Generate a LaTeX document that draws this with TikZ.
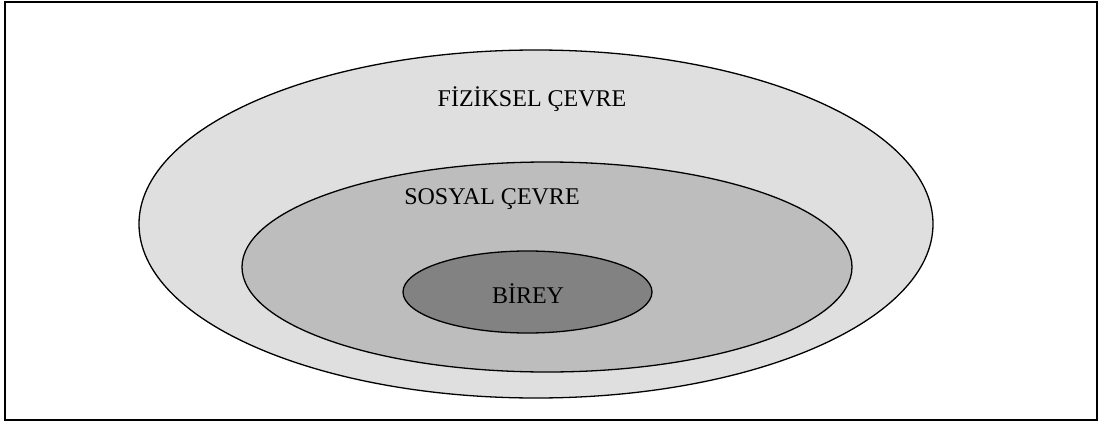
\documentclass[tikz,border=0pt]{standalone}
\usepackage{fontspec}
\setmainfont{Liberation Serif}
\usetikzlibrary{shapes.geometric}
\definecolor{outerfill}{RGB}{223,223,223}
\definecolor{midfill}{RGB}{189,189,189}
\definecolor{innerfill}{RGB}{130,130,130}
\tikzset{
  ring/.style={draw=black, line width=1.3pt},
  lbl/.style={font=\fontsize{24}{27}\selectfont, text=black, inner sep=0pt}
}
\begin{document}
\begin{tikzpicture}[x=1pt,y=-1pt]
\useasboundingbox (0,0) rectangle (1101,423);
\draw[line width=2pt] (5,2) rectangle (1097,420);
\draw[ring, fill=outerfill] (536,224) ellipse [x radius=397, y radius=174];
\draw[ring, fill=midfill] (547,267) ellipse [x radius=305, y radius=105];
\draw[ring, fill=innerfill] (527.5,292) ellipse [x radius=124.5, y radius=41];
\node[lbl] (fiz) at (532,99) {FİZİKSEL ÇEVRE};
\node[lbl] (sos) at (492,199) {SOSYAL ÇEVRE};
\node[lbl] (bir) at (528,294) {BİREY};
\end{tikzpicture}
\end{document}
